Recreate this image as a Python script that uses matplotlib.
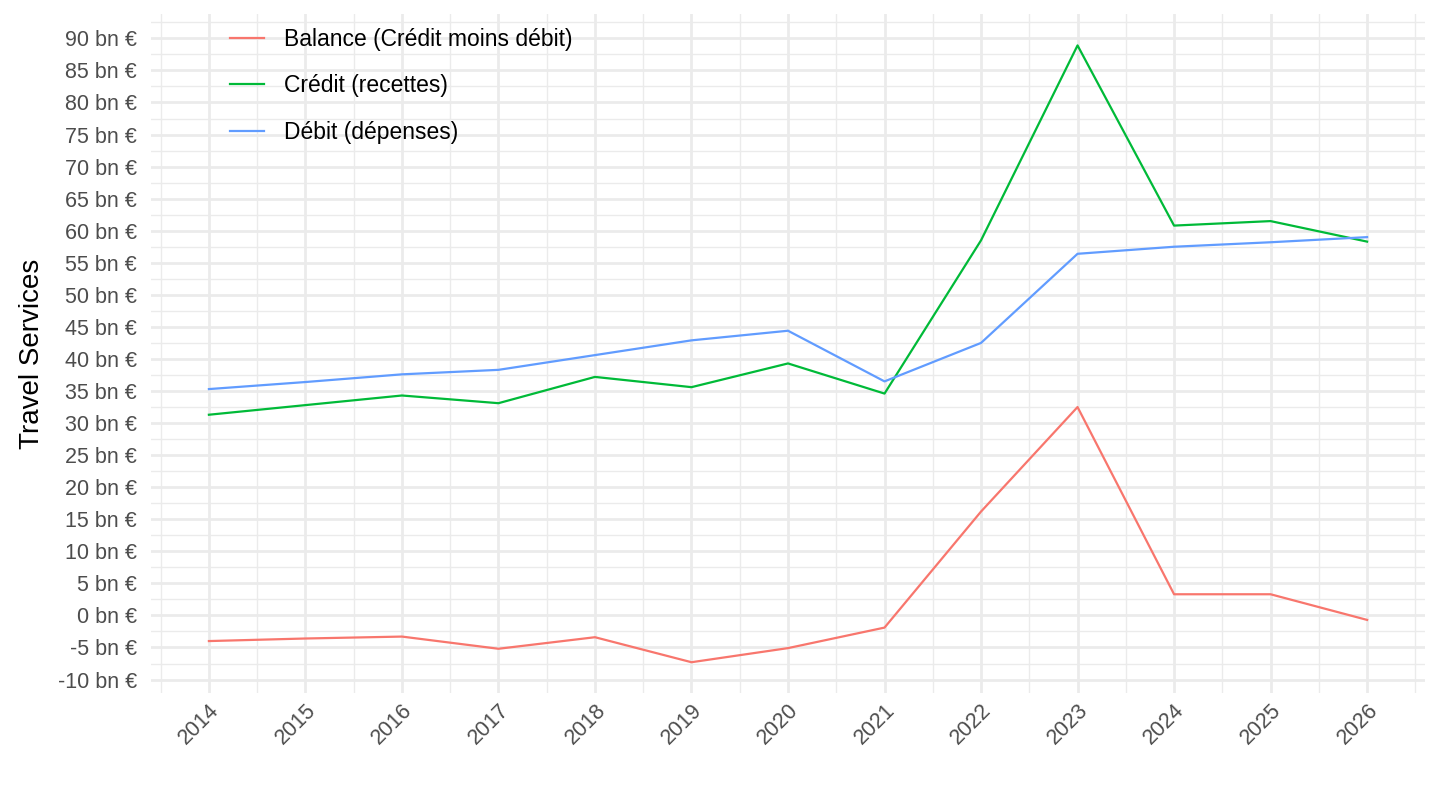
import matplotlib.pyplot as plt
from matplotlib.ticker import MultipleLocator, FuncFormatter

plt.rcParams['font.family'] = ['Liberation Sans', 'DejaVu Sans']

# travel services, bn euros
years = [2014, 2015, 2016, 2017, 2018, 2019, 2020, 2021, 2022, 2023, 2024, 2025, 2026]
balance = [-4.0, -3.6, -3.3, -5.2, -3.4, -7.3, -5.1, -1.9, 16.2, 32.5, 3.3, 3.3, -0.7]
credit = [31.3, 32.8, 34.3, 33.1, 37.2, 35.6, 39.3, 34.6, 58.5, 88.9, 60.8, 61.5, 58.3]
debit = [35.3, 36.4, 37.6, 38.3, 40.6, 42.9, 44.4, 36.5, 42.5, 56.4, 57.5, 58.2, 59.0]

labels = ['Balance (Crédit moins débit)', 'Crédit (recettes)', 'Débit (dépenses)']
colors = ['#F8766D', '#00BA38', '#619CFF']

fig = plt.figure(figsize=(14.4, 8.1), dpi=100)
ax = fig.add_axes([151/1440, 1 - 693/810, (1425 - 151)/1440, (693 - 14)/810])

for series, label, color in zip([balance, credit, debit], labels, colors):
    ax.plot(years, series, color=color, linewidth=1.6, label=label)

ax.set_xlim(2013.4, 2026.6)
ax.set_ylim(-12.1, 93.8)
ax.set_xticks(years)
ax.xaxis.set_minor_locator(MultipleLocator(0.5))
ax.yaxis.set_major_locator(MultipleLocator(5))
ax.yaxis.set_minor_locator(MultipleLocator(2.5))
ax.yaxis.set_major_formatter(FuncFormatter(lambda v, _: f'{int(round(v))} bn €'))

ax.grid(True, which='major', color='#EBEBEB', linewidth=2.0)
ax.grid(True, which='minor', color='#EBEBEB', linewidth=1.0)
ax.set_axisbelow(True)
for s in ax.spines.values():
    s.set_visible(False)
ax.tick_params(which='both', length=0)
ax.tick_params(axis='y', labelsize=15.5, labelcolor='#4D4D4D', pad=10)
ax.tick_params(axis='x', labelsize=15.5, labelcolor='#4D4D4D', pad=5)
plt.setp(ax.get_xticklabels(), rotation=45, ha='right', rotation_mode='anchor')

ax.set_ylabel('Travel Services', fontsize=20, labelpad=9)

ax.legend(loc='upper left', bbox_to_anchor=(0.0546, 0.993), borderaxespad=0,
          frameon=False, fontsize=16.5, labelspacing=1.02, handlelength=1.5,
          handletextpad=0.85)

plt.savefig('out.png', dpi=100)
